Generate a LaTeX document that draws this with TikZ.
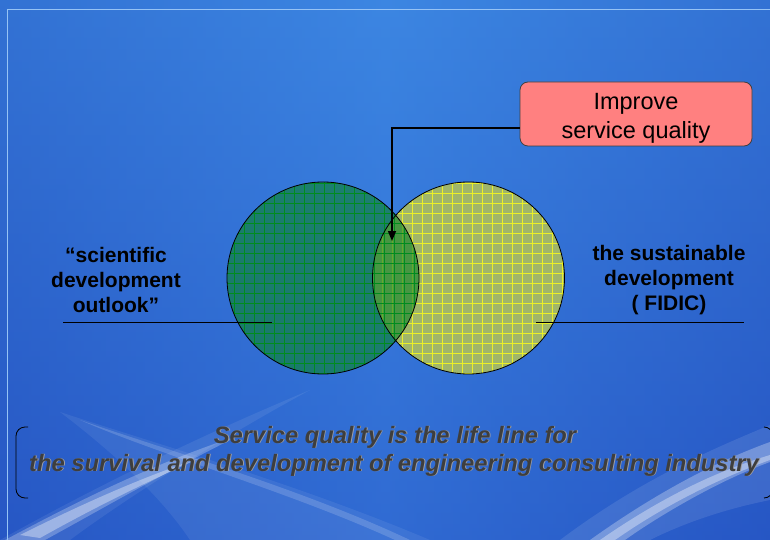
\documentclass[tikz,border=0pt]{standalone}
\usepackage{fontspec}
\setmainfont{Liberation Sans}
\usetikzlibrary{arrows.meta}
\definecolor{bgtop}{RGB}{60,134,226}
\definecolor{bgbot}{RGB}{38,84,198}
\definecolor{bgside}{RGB}{40,90,195}
\definecolor{frameline}{RGB}{150,195,245}
\definecolor{boxred}{RGB}{255,128,128}
\definecolor{leftfill}{RGB}{10,130,40}
\definecolor{leftgrid}{RGB}{0,140,30}
\definecolor{rightfill}{RGB}{160,182,106}
\definecolor{rightgrid}{RGB}{235,240,40}
\definecolor{slogan}{RGB}{62,62,62}
\definecolor{sloganshadow}{RGB}{160,160,165}
\begin{document}
\begin{tikzpicture}[x=1pt,y=-1pt,
  lbl/.style={font=\fontsize{21}{25}\selectfont\bfseries, align=center, text=black, inner sep=0pt},
  boxst/.style={draw=black!75, line width=0.8pt, fill=boxred, rounded corners=8pt,
    minimum width=232pt, minimum height=64pt, inner sep=0pt},
  boxtext/.style={align=center, font=\fontsize{23.5}{29}\selectfont, inner sep=0pt, text=black},
  slog/.style={font=\fontsize{23.7}{28}\selectfont\bfseries\itshape, text=slogan, inner sep=0pt},
  slogsh/.style={font=\fontsize{23.7}{28}\selectfont\bfseries\itshape, text=sloganshadow, inner sep=0pt},
  swoosh/.style={fill=white, draw=none},
  connector/.style={line width=1.5pt, -{Triangle[length=10pt,width=8pt]}},
  rule/.style={line width=0.9pt, black},
  bracket/.style={line width=0.8pt, black, rounded corners=9pt}]
\useasboundingbox (0,0) rectangle (770,540);
% background
\shade[top color=bgtop, bottom color=bgbot] (0,0) rectangle (770,540);
\shade[left color=bgside, right color=bgside, middle color=bgtop, opacity=0.45] (0,0) rectangle (770,540);
% swooshes
\fill[swoosh, opacity=0.07] (60,412) .. controls (160,445) and (300,485) .. (430,540) -- (190,540) .. controls (160,495) and (110,450) .. cycle;
\fill[swoosh, opacity=0.16] (80,420) .. controls (160,448) and (300,488) .. (410,540) -- (395,540) .. controls (290,492) and (160,455) .. cycle;
\fill[swoosh, opacity=0.08] (0,540) .. controls (90,490) and (190,440) .. (310,390) .. controls (200,450) and (110,510) .. (70,540) -- cycle;
\fill[swoosh, opacity=0.25] (5,540) .. controls (80,500) and (150,465) .. (240,435) .. controls (160,475) and (100,510) .. (45,540) -- cycle;
\fill[swoosh, opacity=0.35] (20,535) .. controls (80,505) and (140,478) .. (200,458) .. controls (140,485) and (90,510) .. (40,538) -- cycle;
\fill[swoosh, opacity=0.10] (560,540) .. controls (640,480) and (710,450) .. (770,425) -- (770,500) .. controls (720,510) and (680,525) .. (650,540) -- cycle;
\fill[swoosh, opacity=0.28] (590,540) .. controls (660,490) and (720,460) .. (770,442) -- (770,462) .. controls (720,480) and (660,515) .. (625,540) -- cycle;
\fill[swoosh, opacity=0.35] (600,540) .. controls (665,495) and (720,470) .. (770,455) -- (770,460) .. controls (720,478) and (665,505) .. (615,540) -- cycle;
% frame line
\draw[frameline, line width=1pt] (7,545) -- (7,9.5) -- (775,9.5);
% right circle
\fill[rightfill] (468.5,278) circle (96);
\begin{scope}
  \clip (468.5,278) circle (96);
  \draw[rightgrid, line width=0.9pt, step=10pt, shift={(2,3)}] (360,170) grid (580,390);
\end{scope}
% left circle
\fill[leftfill, opacity=0.6] (323,278) circle (96);
\begin{scope}
  \clip (323,278) circle (96);
  \draw[leftgrid, line width=0.8pt, step=10pt, shift={(4,3)}] (210,170) grid (430,390);
\end{scope}
\draw[black, line width=0.8pt] (468.5,278) circle (96);
\draw[black, line width=0.8pt] (323,278) circle (96);
% box and connector
\node[boxst] (box) at (636,114) {};
\node[boxtext] (boxlabel) at (636,118) {Improve\\service quality};
\coordinate (bend) at (392,128);
\coordinate (tip) at (392,241);
\draw[connector] (box.west |- bend) -- (bend) -- (tip);
% side labels
\node[lbl] (lefttxt) at (116,280) {“scientific\\development\\outlook”};
\node[lbl] (righttxt) at (669,280) {the sustainable\\development\\( FIDIC)};
\coordinate (la) at (63,322);
\coordinate (lb) at (272,322);
\coordinate (ra) at (536,322);
\coordinate (rb) at (744,322);
\draw[rule] (la) -- (lb);
\draw[rule] (ra) -- (rb);
% slogan
\node[slogsh] (s1sh) at (395.9,437.5) {Service quality is the life line for};
\node[slogsh] (s2sh) at (394.9,465.5) {the survival and development of engineering consulting industry};
\node[slog] (s1) at (395,437) {Service quality is the life line for};
\node[slog] (s2) at (394,465) {the survival and development of engineering consulting industry};
% brackets
\draw[bracket] (28,427) -- (16,427) -- (16,498) -- (28,498);
\draw[bracket] (764,427) -- (773,427) -- (773,498) -- (764,498);
\end{tikzpicture}
\end{document}
